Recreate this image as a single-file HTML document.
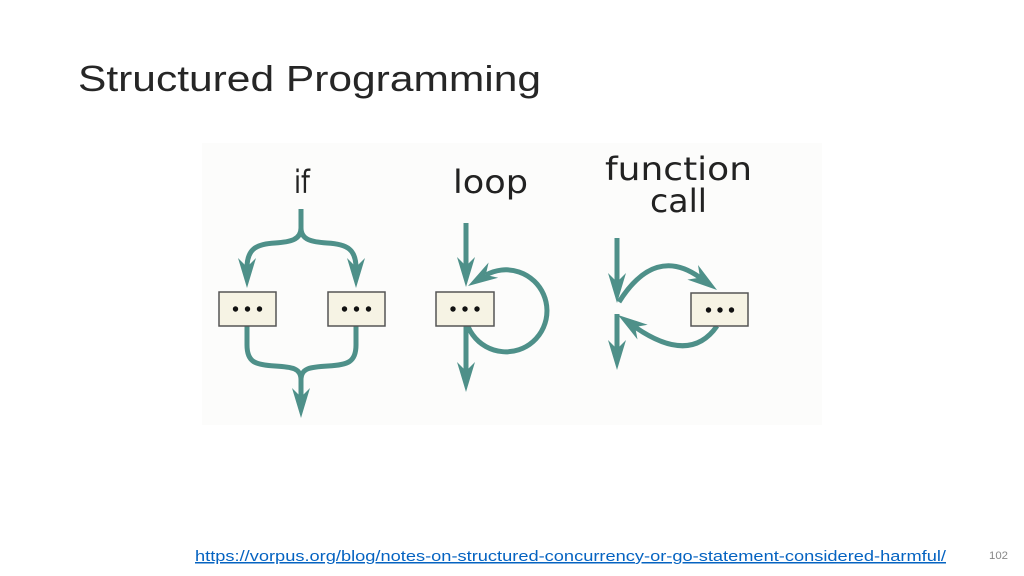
<!DOCTYPE html>
<html><head><meta charset="utf-8"><style>
html,body{margin:0;padding:0;background:#fff;}
svg{display:block;}
</style></head><body>
<svg width="1024" height="576" viewBox="0 0 1024 576" xmlns="http://www.w3.org/2000/svg">
<rect width="1024" height="576" fill="#ffffff"/>
<text x="78" y="91" font-family="Liberation Sans, sans-serif" font-size="36" fill="#262626" textLength="463" lengthAdjust="spacingAndGlyphs">Structured Programming</text>

<rect x="202" y="143" width="620" height="282" fill="#fcfcfb"/>

<g font-family="DejaVu Sans, sans-serif" font-size="32" fill="#222">
<text x="294" y="193" textLength="16" lengthAdjust="spacingAndGlyphs">if</text>
<text x="453" y="193" textLength="75" lengthAdjust="spacingAndGlyphs">loop</text>
<text x="605" y="180" textLength="147" lengthAdjust="spacingAndGlyphs">function</text>
<text x="650" y="212" textLength="57" lengthAdjust="spacingAndGlyphs">call</text>
</g>

<g fill="none" stroke="#4e9089" stroke-width="5" stroke-linecap="butt">
<path d="M301 209 L301 228 C301 240 290 242 275 243 C255 244 247 250 247 268"/>
<path d="M301 228 C301 240 312 242 327 243 C348 244 356 250 356 268"/>
<path d="M247 326 L247 345 C247 362 255 365 275 366 C292 367 301 368 301 380 L301 398"/>
<path d="M356 326 L356 345 C356 362 348 365 328 366 C310 367 301 368 301 380"/>
<path d="M466 223 L466 267"/>
<path d="M466 326 L466 372"/>
<path d="M466 320 A41 41 0 1 0 486 275"/>
<path d="M617 238 L617 283"/>
<path d="M617 314 L617 350"/>
<path d="M619 302 Q655 245 700 277.6"/>
<path d="M717 326 Q690 365 635 327"/>
</g>

<g fill="#4e9089">
<polygon points="247,288 238,258 247,267 256,258"/>
<polygon points="356,288 347,258 356,267 365,258"/>
<polygon points="301,418 292,388 301,397 310,388"/>
<polygon points="466,287 457,257 466,266 475,257"/>
<polygon points="466,392 457,362 466,371 475,362"/>
<polygon points="617,303 608,273 617,282 626,273"/>
<polygon points="617,370 608,340 617,349 626,340"/>
<polygon points="468,286 498.2,277.7 485.8,274.9 488.6,262.5"/>
<polygon points="717,290 687.4,279.6 700,277.6 698,265"/>
<polygon points="618,315 647.7,324.7 635.2,327 637.5,339.5"/>
</g>

<g fill="#f6f3e4" stroke="#555" stroke-width="1.5">
<rect x="219" y="292" width="57" height="34"/>
<rect x="328" y="292" width="57" height="34"/>
<rect x="436" y="292" width="58" height="34"/>
<rect x="691" y="293" width="57" height="33"/>
</g>
<g fill="#111">
<circle cx="235.5" cy="309" r="2.7"/><circle cx="247.5" cy="309" r="2.7"/><circle cx="259.5" cy="309" r="2.7"/>
<circle cx="344.5" cy="309" r="2.7"/><circle cx="356.5" cy="309" r="2.7"/><circle cx="368.5" cy="309" r="2.7"/>
<circle cx="453" cy="309" r="2.7"/><circle cx="465" cy="309" r="2.7"/><circle cx="477" cy="309" r="2.7"/>
<circle cx="708.5" cy="310" r="2.7"/><circle cx="720" cy="310" r="2.7"/><circle cx="731.5" cy="310" r="2.7"/>
</g>

<text x="195" y="561" font-family="Liberation Sans, sans-serif" font-size="15" fill="#0563c1" textLength="751" lengthAdjust="spacingAndGlyphs" text-decoration="underline">https://vorpus.org/blog/notes-on-structured-concurrency-or-go-statement-considered-harmful/</text>
<text x="989" y="559" font-family="Liberation Sans, sans-serif" font-size="11" fill="#898989" textLength="19" lengthAdjust="spacingAndGlyphs">102</text>
</svg>
</body></html>
